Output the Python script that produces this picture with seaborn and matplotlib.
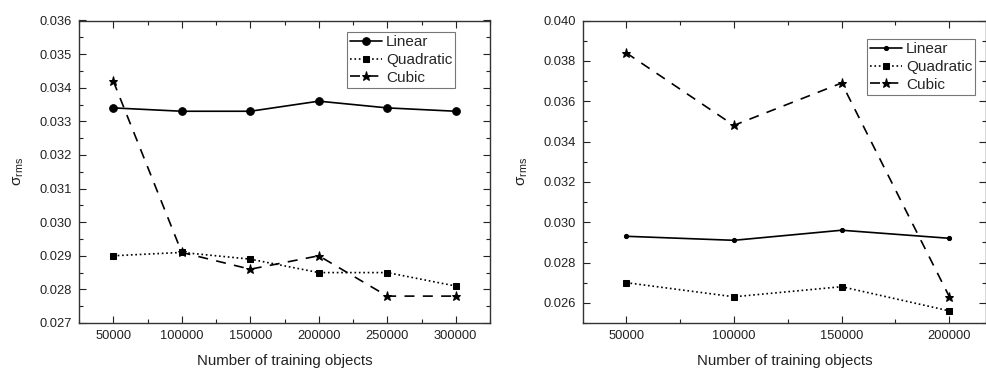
import matplotlib
matplotlib.use("Agg")
import matplotlib.pyplot as plt
from matplotlib.ticker import MultipleLocator, FormatStrFormatter
import seaborn as sns
import pandas as pd

sns.set_theme(style="white")
plt.rcParams['font.family'] = ['Liberation Sans', 'DejaVu Sans']
plt.rcParams['mathtext.fontset'] = 'custom'
plt.rcParams['mathtext.rm'] = 'Liberation Sans'

# Left panel data
x_left = [50000, 100000, 150000, 200000, 250000, 300000]
linear_left = [0.0334, 0.0333, 0.0333, 0.0336, 0.0334, 0.0333]
quadratic_left = [0.0290, 0.0291, 0.0289, 0.0285, 0.0285, 0.0281]
cubic_left = [0.0342, 0.0291, 0.0286, 0.0290, 0.0278, 0.0278]

# Right panel data
x_right = [50000, 100000, 150000, 200000]
linear_right = [0.0293, 0.0291, 0.0296, 0.0292]
quadratic_right = [0.0270, 0.0263, 0.0268, 0.0256]
cubic_right = [0.0384, 0.0348, 0.0369, 0.0263]

labels = ["Linear", "Quadratic", "Cubic"]

fig = plt.figure(figsize=(9.87, 3.68), dpi=100)
W, H = 987, 368
axL = fig.add_axes([79 / W, 1 - 323 / H, (490 - 79) / W, (323 - 20.5) / H])
axR = fig.add_axes([583 / W, 1 - 323 / H, (986 - 583) / W, (323 - 20.5) / H])


def draw(ax, x, lin, quad, cub, lin_ms):
    styles = [
        (lin, '-', 'o', lin_ms, 1.2),
        (quad, ':', 's', 5, 1.2),
        (cub, (0, (6, 5)), '*', 6.5, 1.2),
    ]
    for (vals, ls, mk, ms, lw), lab in zip(styles, labels):
        df = pd.DataFrame({"x": x, "y": vals})
        sns.lineplot(data=df, x="x", y="y", ax=ax, color="black", linestyle=ls,
                     marker=mk, markersize=ms, linewidth=lw, label=lab,
                     markeredgecolor="black", markerfacecolor="black")
    ax.tick_params(which="both", direction="in", top=True, right=True,
                   bottom=True, left=True, colors="#222222", labelsize=9.3,
                   labelcolor="#222222")
    ax.tick_params(which="major", length=5, width=0.8, pad=5)
    ax.tick_params(which="minor", length=3, width=0.8)
    for s in ax.spines.values():
        s.set_color("#333333")
        s.set_linewidth(1.0)
    ax.set_xlabel("Number of training objects", fontsize=10.8, color="#222222", labelpad=9)
    ax.set_ylabel(r"σ$_{\mathregular{rms}}$", fontsize=11, color="#222222", labelpad=10)


legend_kw = dict(loc="upper left", fontsize=11, frameon=True, fancybox=False,
                 edgecolor="#555555", handlelength=2.1, handletextpad=0.25,
                 borderpad=0.2, labelspacing=0.25, borderaxespad=0)

draw(axL, x_left, linear_left, quadratic_left, cubic_left, 5.5)
axL.set_xlim(25000, 325000)
axL.set_ylim(0.027, 0.036)
axL.xaxis.set_major_locator(MultipleLocator(50000))
axL.xaxis.set_minor_locator(MultipleLocator(25000))
axL.yaxis.set_major_locator(MultipleLocator(0.001))
axL.yaxis.set_minor_locator(MultipleLocator(0.0005))
axL.yaxis.set_major_formatter(FormatStrFormatter('%.3f'))
axL.xaxis.set_major_formatter(FormatStrFormatter('%d'))
legL = axL.legend(bbox_to_anchor=((347 - 79) / (490 - 79), 1 - (32 - 20.5) / 302.5), **legend_kw)
legL.get_frame().set_linewidth(0.8)

draw(axR, x_right, linear_right, quadratic_right, cubic_right, 3)
axR.set_xlim(30000, 217000)
axR.set_ylim(0.025, 0.040)
axR.xaxis.set_major_locator(MultipleLocator(50000))
axR.xaxis.set_minor_locator(MultipleLocator(25000))
axR.yaxis.set_major_locator(MultipleLocator(0.002))
axR.yaxis.set_minor_locator(MultipleLocator(0.001))
axR.yaxis.set_major_formatter(FormatStrFormatter('%.3f'))
axR.xaxis.set_major_formatter(FormatStrFormatter('%d'))
legR = axR.legend(bbox_to_anchor=((867 - 583) / (986 - 583), 1 - (39 - 20.5) / 302.5), **legend_kw)
legR.get_frame().set_linewidth(0.8)

fig.savefig("out.png", dpi=100)
